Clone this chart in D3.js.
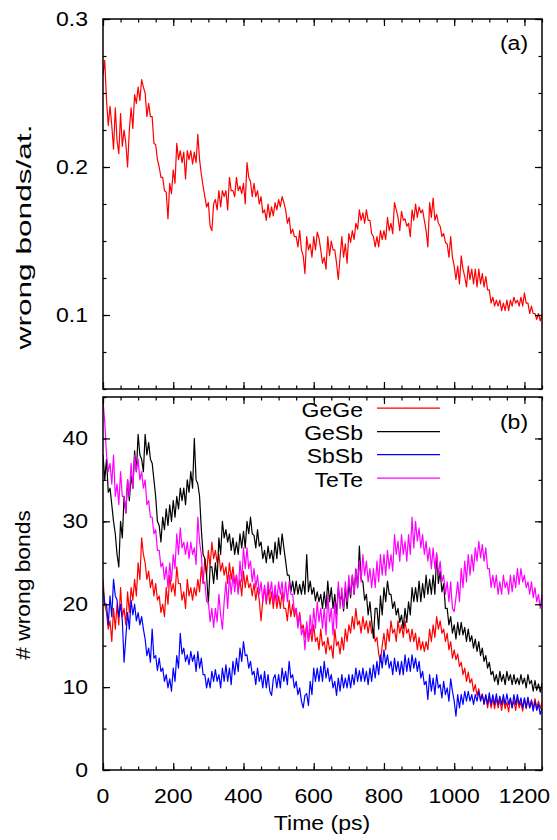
<!DOCTYPE html>
<html lang="en">
<head>
<meta charset="UTF-8">
<title>Wrong bonds</title>
<style>
  body { margin: 0; background: #fff; }
  svg text { font-family: "Liberation Sans", Arial, Helvetica, sans-serif; fill: #000; }
</style>
</head>
<body>
<svg id="chart" width="557" height="840"></svg>
<script src="https://d3js.org/d3.v7.min.js"></script>
<script>
/* global d3 */

// samples every 5 ps, from 0 to 1250 ps
const step = 5;

// (a) wrong bonds per atom
const wrongPerAtom = [
  0.262,0.272, 0.245,0.228, 0.241,0.228, 0.212,0.240, 0.218,0.209, 0.236,0.214, 0.225,0.216, 0.200,0.225, 0.240,0.226, 0.249,0.243,
  0.254,0.245, 0.259,0.254, 0.250,0.234, 0.243,0.234, 0.234,0.216, 0.215,0.205, 0.200,0.193, 0.193,0.184, 0.183,0.165, 0.189,0.182,
  0.198,0.189, 0.216,0.205, 0.211,0.203, 0.210,0.192, 0.211,0.205, 0.211,0.202, 0.210,0.203, 0.222,0.205, 0.195,0.187, 0.180,0.173,
  0.176,0.160, 0.157,0.175, 0.178,0.171, 0.184,0.173, 0.184,0.180, 0.184,0.171, 0.193,0.184, 0.184,0.180, 0.193,0.184, 0.187,0.182,
  0.189,0.175, 0.203,0.193, 0.190,0.180, 0.189,0.180, 0.184,0.175, 0.180,0.169, 0.171,0.164, 0.175,0.166, 0.173,0.167, 0.176,0.171,
  0.178,0.173, 0.180,0.176, 0.171,0.162, 0.166,0.155, 0.158,0.153, 0.153,0.146, 0.157,0.144, 0.140,0.128, 0.153,0.144, 0.148,0.139,
  0.153,0.144, 0.156,0.152, 0.144,0.135, 0.139,0.131, 0.153,0.140, 0.150,0.144, 0.144,0.135, 0.124,0.139, 0.153,0.139, 0.148,0.135,
  0.155,0.149, 0.157,0.151, 0.162,0.158, 0.171,0.164, 0.169,0.162, 0.171,0.164, 0.164,0.155, 0.153,0.146, 0.153,0.146, 0.157,0.151,
  0.157,0.151, 0.166,0.157, 0.162,0.155, 0.176,0.171, 0.166,0.157, 0.170,0.164, 0.165,0.160, 0.162,0.153, 0.171,0.164, 0.175,0.166,
  0.173,0.169, 0.171,0.164, 0.157,0.146, 0.176,0.166, 0.179,0.164, 0.168,0.162, 0.160,0.153, 0.155,0.149, 0.148,0.139, 0.153,0.139,
  0.133,0.124, 0.133,0.121, 0.140,0.131, 0.126,0.119, 0.133,0.124, 0.131,0.121, 0.131,0.119, 0.131,0.121, 0.128,0.119, 0.126,0.117,
  0.117,0.108, 0.112,0.106, 0.110,0.106, 0.110,0.103, 0.108,0.103, 0.110,0.103, 0.110,0.106, 0.112,0.108, 0.110,0.106, 0.112,0.106,
  0.115,0.108, 0.108,0.101, 0.106,0.101, 0.101,0.097, 0.101,0.096, 0.100
];

// (b) number of wrong bonds by pair type
const geGe = [
  23,20, 19,17, 18,15.5, 19.5,17, 20,17.5, 22,18.5, 19.5,17.5, 21.5,19, 22,20.5, 23,21,
  25,23, 28,26, 25,23, 24,22, 23,21, 22.5,20.5, 21,19, 20,18.5, 22,20, 23.5,21.5,
  22.5,21, 24.5,22.5, 22.5,20.5, 21.5,19.5, 23,21, 22,20.5, 22,21, 23,21.5, 24.5,22.5, 25.5,23.5,
  26.5,24.5, 27.5,25.5, 26.5,25, 26,24, 25,23.5, 24.5,22.5, 25,23, 24.5,22.5, 23.5,21.5, 23,21,
  24,22, 23.5,22, 22.5,21, 22.5,20.5, 22,20.5, 18,20.5, 22,20, 22,20, 21.5,19.5, 21.5,19.5,
  21,19.5, 21.5,19.5, 19.5,18, 20.5,18.5, 20,18.5, 19.5,17.5, 19,17, 17.5,16, 17.5,15.5, 17,15.5,
  17.5,15.5, 16,14.5, 17,15, 15.5,14, 16,14.5, 15,13.5, 17,15, 15.5,14, 16,14.5, 17,15.5,
  17.5,16.5, 18.5,17, 19.5,17.5, 18,16.5, 18.5,17, 18,16.5, 18,16.5, 17,15.5, 16,14, 13,15,
  16.5,14.5, 17,15.5, 18,16.5, 17,15.5, 18,16.5, 17.5,16, 18,16.5, 17,15.5, 17,15.5, 16.5,14.5,
  16,14.5, 15.5,14.3, 15.5,14.5, 17,15.5, 17.5,16, 18.5,17, 18,16.5, 17,15.5, 16.5,14.5, 15.5,13.5,
  14.5,13.3, 14,12.5, 13,11.5, 12.3,10.7, 11.8,10.5, 11,9.5, 10.3,9, 9.8,8.5, 9.2,8, 9,7.5,
  8.8,7.5, 8.6,7.4, 8.6,7.5, 8.5,7.2, 8.6,7.4, 8.2,7, 8.6,7.5, 8.4,7.2, 8.6,7.5, 8.2,7.1,
  8.6,7.4, 8.6,7.5, 8.5,7.4, 8.6,7.5, 8.3,7.4, 8.2
];
const geSb = [
  38,35, 37.5,33.5, 34,32, 30,28.5, 26,24.5, 30,28, 33,31, 35,32.5, 35.5,34, 38.5,36,
  40.5,38, 37.5,36, 40.5,38, 39.5,37.5, 37,35, 33,30, 29.5,27.5, 30.5,29, 31.5,29.5, 32,30,
  32.5,30.5, 33,31.5, 34,32.5, 34,32, 35,33.5, 36,34, 40,35, 34.5,33, 29,26, 25.5,23.5,
  20,24.5, 24.5,22.5, 25,23, 28,26, 30,28, 29,27.5, 28.5,26.5, 28,26, 27.5,26, 28.5,26.8,
  28.8,26.8, 30,28.5, 30.5,28.5, 28.3,26.8, 29,27, 27.5,25.5, 26.5,25, 27,25.5, 26.5,25, 27.5,25.5,
  28,26, 28.5,26.8, 25.2,23.5, 23.5,21.5, 22.8,21.2, 22.8,21.2, 22.4,21.2, 22.8,21.2, 26,21.5, 22.8,21.2,
  22,20.4, 21.5,20.3, 21.2,19.5, 21.5,19.5, 22.8,20.3, 22,19.5, 21.2,18.8, 22,20.3, 21.2,19.2, 22,19.5,
  22.5,20.8, 23.5,21.2, 24.2,22, 27,23, 22.7,20.5, 21.2,18.7, 20.3,18, 15.9,19.5, 19.5,17, 21,18.7,
  22,20.3, 22.8,21.2, 21.2,19.5, 20.3,18.7, 19.5,17.8, 18.7,17.1, 19.5,17.8, 20.3,18.7, 22,20.3, 22,20.3,
  22.8,20.3, 22.5,20.8, 23.5,21.2, 23,21.2, 23.5,21.2, 26,22.5, 24,21.5, 22.5,19.5, 19.5,17.5, 18.5,16.5,
  17.5,15.8, 17.8,16.3, 17.8,16.3, 17.2,15.5, 17,15.5, 16.2,14.7, 15.8,14.3, 15.5,13.8, 14.7,13.1, 13.8,12.3,
  13,11.5, 11.9,10.7, 11.5,10.3, 11.9,10.7, 11.5,10.3, 11.9,10.8, 11.5,10.3, 11.5,10.4, 11.1,10.3, 11.5,10.4,
  11.1,9.9, 11.5,10.4, 10.8,9.5, 10.8,9.6, 10.4,9.4, 10.5
];
const sbSb = [
  22,20, 20,17.5, 21,18.5, 23,21, 20.5,18.5, 20,18, 13,16, 19,17, 20.5,18.7, 20,18,
  19,17.5, 18.5,17, 15.8,13.8, 14.7,13, 17,13.5, 13.8,12, 13.5,11.9, 12.3,10.7, 11.5,9.9, 11,9.5,
  12.3,10.7, 13.8,12.3, 16.5,14, 14.7,13.1, 13.9,12.7, 14.3,13.1, 13.9,11.9, 14.3,12.3, 13.5,11.5, 11.5,9.9,
  11.1,9.9, 11.9,10.7, 12.1,10.7, 11.5,9.9, 12.3,10.7, 12.7,10.7, 12.3,10.3, 13.1,11.5, 13.5,11.9, 14.7,13.1,
  15.5,13.8, 13.9,12.3, 13.1,11.5, 11.9,10.3, 12.3,10.7, 11.5,9.9, 11.9,9.9, 11.5,9.5, 9,11, 11.5,9.9,
  11.5,9.9, 12.3,10.7, 11.9,10.3, 13.1,11.1, 11.5,9.9, 10.7,9.1, 9.9,8.3, 7.5,9, 9.2,7.8, 10.7,9.1,
  12.3,10.7, 12.3,10.7, 12.5,10.7, 13.1,11.1, 12.3,10.7, 11.5,9.9, 10.7,9, 11.1,9.5, 11.5,9.9, 11.1,9.9,
  11.5,9.9, 11.5,10.3, 12.3,10.7, 12,10.7, 12.3,10.7, 11.9,10.3, 12.3,10.7, 12.7,11.1, 13.1,11.5, 13.9,12.3,
  14.5,12.7, 13.9,12.3, 13.1,11.5, 13.5,11.9, 13.1,11.5, 13.1,11.5, 13.9,11.9, 13.5,11.9, 13.9,12.3, 13.5,11.9,
  13.1,11.1, 11.9,10.3, 10.7,8.5, 11.5,9.5, 11.1,9.1, 11.5,9.9, 10.3,8.7, 10.7,9.1, 9.9,8.3, 11,9.5,
  8.3,6.5, 9.1,7.5, 9.1,7.9, 9.5,8.3, 9.5,8.3, 9.1,7.9, 9.1,8.3, 9.5,8.3, 9.1,7.9, 9.1,7.9,
  9.3,7.9, 9.1,7.9, 9.2,7.9, 8.9,7.9, 9.1,7.9, 9.2,7.9, 8.7,7.5, 9.1,7.9, 9.1,7.9, 8.7,7.5,
  8.7,7.5, 8.8,7.5, 8.3,7.1, 8.3,7.2, 7.9,6.7, 7.5
];
const teTe = [
  44.5,42, 38,36, 37,34.5, 38,33, 34.5,32, 36,33, 33,31, 35,33, 37,34, 38,36,
  37.5,35, 36,34, 35,32, 32.5,30.5, 30.5,28.5, 29,26.5, 26.5,24.5, 25,23, 24.5,22, 25,22.8,
  26,24.3, 28.5,26, 29.2,26.8, 27.5,26, 27.5,25.5, 27.5,26, 26.8,24.8, 30.5,27.5, 26,22.5, 22.7,20.3,
  20.3,17.9, 19.5,17.2, 19.5,17.9, 21.2,18.7, 17,20.3, 22.7,19.5, 23.5,21.2, 23.5,21.5, 23.5,21.2, 25.2,22.7,
  26.8,24.3, 26.8,24.3, 25.2,22.7, 24.3,22, 23.5,21.2, 22.7,20.3, 22.3,20.3, 22.7,21.2, 22.7,20.3, 22.3,20.3,
  22.7,21.2, 22.7,20.3, 22.7,20.3, 22.7,21.2, 21.2,19.1, 19.5,17.1, 18.7,16.3, 17.1,14.5, 17.9,15.5, 18.7,16.3,
  19.5,17.1, 20.3,17.9, 19.5,17.1, 19.5,16.3, 21.2,17.9, 19.5,16.3, 20.3,17.1, 22.7,19.5, 22,19.5, 22.7,20.3,
  23.5,21.2, 23.5,21.2, 24.3,22, 25.2,22.7, 26,23.5, 25.2,22.7, 24.3,22, 24.3,22, 25.2,22.7, 26,23.5,
  26,23.5, 26.5,24.3, 26,24, 28.4,26, 27.6,25.2, 28.4,26, 27.6,25.2, 28.4,26, 30.5,26.8, 30,27.6,
  29.2,26.8, 28.4,26, 27.6,25.2, 26.8,24.3, 26.8,24.3, 26.2,23.5, 25.2,22.7, 23.5,21.2, 22.7,20.3, 22.7,19.5,
  19.1,20.8, 22.7,20.3, 24.3,22, 25.2,22.7, 26,23.5, 26,24, 26.8,25.2, 27.6,25.6, 27.2,25.2, 26.8,24.3,
  24.3,22, 23.5,22, 23.5,21.2, 22.7,21.2, 23.5,22, 22.7,21.2, 23.5,21.5, 23.5,22, 24.3,22.4, 24.3,22.7,
  23.5,22, 22.7,21.2, 22.7,20.8, 22,20.3, 21.2,19.5, 21.2
];

const seriesNames = ["GeGe", "GeSb", "SbSb", "TeTe"];
const seriesColors = ["#ff0000", "#000000", "#0000ff", "#ff00ff"];
const seriesData = [geGe, geSb, sbSb, teTe];

const timeTicks = [0, 200, 400, 600, 800, 1000, 1200];
const fracTicks = [0.1, 0.2, 0.3];
const countTicks = [0, 10, 20, 30, 40];

const svg = d3.select("#chart");
const stretch = 1.15; // text in the figure is a little wider than the font

const x = d3.scaleLinear().domain([0, 1250]).range([103, 542]);
const yA = d3.scaleLinear().domain([0.05, 0.3]).range([389, 19]);
const yB = d3.scaleLinear().domain([0, 45]).range([770, 397]);

function label(g, px, py, str, anchor, size, k) {
  const t = g.append("text")
    .attr("x", px).attr("y", py)
    .attr("text-anchor", anchor || "start")
    .style("font-size", (size || 20) + "px")
    .text(str);
  const len = t.node().getComputedTextLength();
  t.attr("textLength", len * (k || stretch)).attr("lengthAdjust", "spacingAndGlyphs");
  return t;
}

function frame(y, majorY, minorY) {
  const [y0, y1] = y.range();
  const g = svg.append("g");
  const minorX = d3.range(0, 1251, 50);
  const axes = [
    [d3.axisBottom(x), y0, minorX, timeTicks],
    [d3.axisTop(x), y1, minorX, timeTicks],
  ];
  axes.forEach(([ax, pos, minor, major]) => {
    g.append("g").attr("transform", `translate(0,${pos})`)
      .call(ax.tickValues(minor).tickSize(-3.5).tickFormat(""));
    g.append("g").attr("transform", `translate(0,${pos})`)
      .call(ax.tickValues(major).tickSize(-7).tickFormat(""));
  });
  [[d3.axisLeft(y), 103], [d3.axisRight(y), 542]].forEach(([ax, pos]) => {
    g.append("g").attr("transform", `translate(${pos},0)`)
      .call(ax.tickValues(minorY).tickSize(-3.5).tickFormat(""));
    g.append("g").attr("transform", `translate(${pos},0)`)
      .call(ax.tickValues(majorY).tickSize(-7).tickFormat(""));
  });
  g.selectAll(".domain").remove();
  g.selectAll(".tick line").attr("stroke", "#000").attr("stroke-width", 1.2);
  g.append("rect")
    .attr("x", 103).attr("y", y1)
    .attr("width", 439).attr("height", y0 - y1)
    .attr("fill", "none").attr("stroke", "#000").attr("stroke-width", 1.5);
  return g;
}

function series(values, y, color, clipId) {
  const line = d3.line()
    .x((d, i) => x(i * step))
    .y(d => y(d));
  svg.append("path")
    .datum(values)
    .attr("clip-path", `url(#${clipId})`)
    .attr("fill", "none")
    .attr("stroke", color)
    .attr("stroke-width", 1.2)
    .attr("stroke-linejoin", "round")
    .attr("d", line);
}

const defs = svg.append("defs");
[["clipA", yA], ["clipB", yB]].forEach(([id, y]) => {
  defs.append("clipPath").attr("id", id).append("rect")
    .attr("x", 103).attr("y", y.range()[1])
    .attr("width", 439).attr("height", y.range()[0] - y.range()[1]);
});

// ----- panel (a)
series(wrongPerAtom, yA, "#ff0000", "clipA");
frame(yA, fracTicks, d3.range(0.05, 0.3001, 0.025));
fracTicks.forEach(v => label(svg, 88, yA(v) + 7, v.toFixed(1), "end"));
label(svg, 514, 50, "(a)", "middle");
label(svg, 0, 0, "wrong bonds/at.", "middle", 20, 1.58)
  .attr("transform", "translate(31,237) rotate(-90)");

// ----- panel (b)
seriesData.forEach((vals, i) => series(vals, yB, seriesColors[i], "clipB"));
frame(yB, countTicks, d3.range(0, 46, 5));
countTicks.forEach(v => label(svg, 88, yB(v) + 7, String(v), "end"));
timeTicks.forEach(v => label(svg, x(v), 803, String(v), "middle"));
label(svg, 514, 429, "(b)", "middle");
label(svg, 0, 0, "# wrong bonds", "middle", 20, 1.14)
  .attr("transform", "translate(30,585) rotate(-90)");
label(svg, 322, 830, "Time (ps)", "middle");

// legend
const legendY = [416.5, 440, 463, 486.5];
seriesNames.forEach((name, i) => {
  label(svg, 363, legendY[i], name, "end");
  svg.append("line")
    .attr("x1", 377).attr("x2", 440)
    .attr("y1", legendY[i] - 8.4).attr("y2", legendY[i] - 8.4)
    .attr("stroke", seriesColors[i]).attr("stroke-width", 1.2);
});
</script>
</body>
</html>
